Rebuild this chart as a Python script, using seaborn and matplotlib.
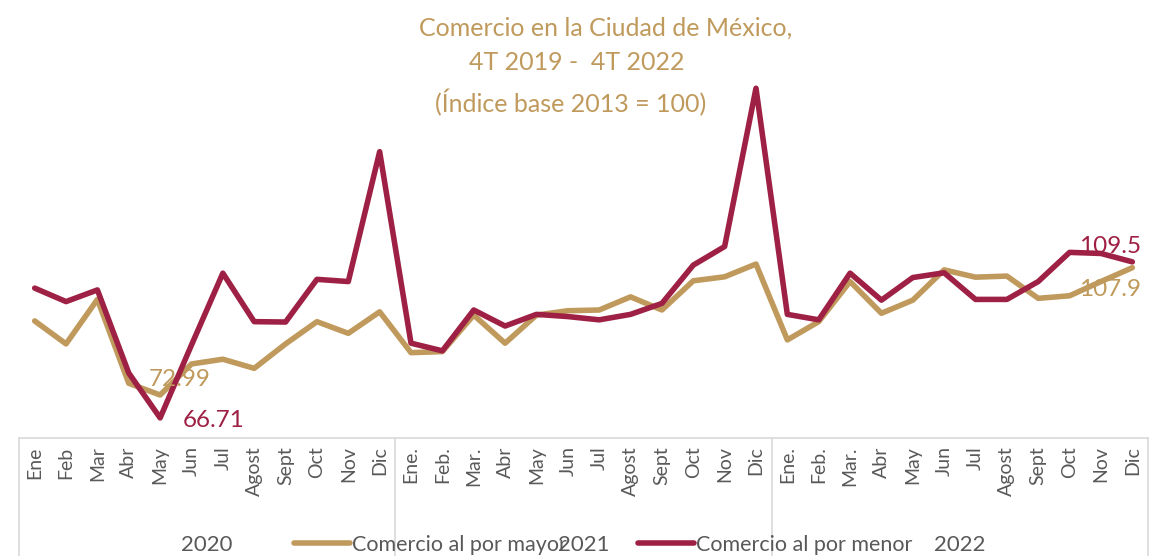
import numpy as np
import pandas as pd
import matplotlib
matplotlib.use("Agg")
import matplotlib.pyplot as plt
import matplotlib.transforms as mtransforms
import seaborn as sns

# --- data ---
meses = ["Ene", "Feb", "Mar", "Abr", "May", "Jun", "Jul", "Agost", "Sept", "Oct", "Nov", "Dic",
         "Ene.", "Feb.", "Mar.", "Abr", "May", "Jun", "Jul", "Agost", "Sept", "Oct", "Nov", "Dic",
         "Ene.", "Feb.", "Mar.", "Abr", "May", "Jun", "Jul", "Agost", "Sept", "Oct", "Nov", "Dic"]
anios = ["2020", "2021", "2022"]
mayor = [93.3, 87.0, 99.2, 76.2, 72.99, 81.5, 82.8, 80.3, 87.0, 93.1, 89.9, 95.8,
         84.6, 84.9, 94.9, 87.2, 94.9, 96.1, 96.3, 99.9, 96.3, 104.3, 105.4, 108.9,
         88.1, 93.1, 104.1, 95.4, 99.0, 107.3, 105.3, 105.6, 99.5, 100.2, 104.1, 107.9]
menor = [102.3, 98.6, 101.8, 79.0, 66.71, 86.7, 106.4, 93.1, 93.0, 104.7, 104.1, 139.7,
         87.2, 85.1, 96.3, 91.9, 95.1, 94.5, 93.6, 95.1, 98.1, 108.6, 113.7, 157.1,
         95.1, 93.6, 106.4, 99.0, 105.2, 106.5, 99.2, 99.2, 104.1, 112.1, 111.8, 109.5]
serie_mayor = "Comercio al por mayor"
serie_menor = "Comercio al por menor"
titulo = ["Comercio en la Ciudad de México,", "4T 2019 -  4T 2022", "(Índice base 2013 = 100)"]

col_mayor = "#C09A5C"
col_menor = "#9E2145"
gris = "#595959"

sns.set_style("white")
plt.rcParams['font.family'] = ['Lato', 'DejaVu Sans']

n = len(meses)
df = pd.DataFrame({
    "mes": list(range(n)) * 2,
    "valor": mayor + menor,
    "serie": [serie_mayor] * n + [serie_menor] * n,
})

fig = plt.figure(figsize=(11.55, 5.56), dpi=100)
ax = fig.add_axes([19 / 1155, 1 - 438 / 556, (1148 - 19) / 1155, 438 / 556])

sns.lineplot(ax=ax, data=df, x="mes", y="valor", hue="serie",
             hue_order=[serie_mayor, serie_menor],
             palette={serie_mayor: col_mayor, serie_menor: col_menor},
             linewidth=4, legend=False)

ax.set_xlim(-0.5, n - 0.5)
ax.set_ylim(61.2, 181.3)
ax.set_yticks([])
ax.set_xlabel("")
ax.set_ylabel("")
for s in ["top", "left", "right"]:
    ax.spines[s].set_visible(False)
ax.spines["bottom"].set_color("#D9D9D9")
ax.spines["bottom"].set_linewidth(1.2)

ax.set_xticks(range(n))
ax.set_xticklabels(meses, rotation=90, fontsize=14, color=gris, va="top")
ax.tick_params(axis="x", length=0, pad=6)

# category group separators and year labels
tr = mtransforms.blended_transform_factory(ax.transData, ax.transAxes)
for xb in [-0.5, 11.5, 23.5, 35.5]:
    ax.plot([xb, xb], [0, -0.3], transform=tr, color="#D9D9D9", lw=1.2, clip_on=False)
for k, a in enumerate(anios):
    ax.text(k * 12 + 5.5, -0.245, a, transform=tr, ha="center", va="center",
            fontsize=16, color=gris)

# data labels
lab = dict(textcoords="offset points", va="center", fontsize=17.5)
ax.annotate(f"{mayor[4]:.2f}", (4, mayor[4]), xytext=(14, 11), ha="center", color=col_mayor, **lab)
ax.annotate(f"{menor[4]:.2f}", (4, menor[4]), xytext=(16, -2), ha="left", color=col_menor, **lab)
ax.annotate(f"{menor[-1]:.1f}", (n - 1, menor[-1]), xytext=(-16, 11), ha="center", color=col_menor, **lab)
ax.annotate(f"{mayor[-1]:.1f}", (n - 1, mayor[-1]), xytext=(-16, -16), ha="center", color=col_mayor, **lab)

# legend
handles = [plt.Line2D([], [], color=col_mayor, lw=4),
           plt.Line2D([], [], color=col_menor, lw=4)]
fig.legend(handles, [serie_mayor, serie_menor], loc="center", ncol=2,
           bbox_to_anchor=(603 / 1155, 11 / 556), frameon=False,
           fontsize=15.5, labelcolor=gris, handlelength=2.6, handletextpad=0.1,
           columnspacing=3.3, borderaxespad=0)

# title, one line at a time (each line centred on its own in the reference)
for txt, xc, yc in zip(titulo, [606, 577, 571], [28, 63, 103]):
    fig.text(xc / 1155, 1 - yc / 556, txt, ha="center", va="center",
             fontsize=18, color=col_mayor)

fig.savefig("out.png", dpi=100)
